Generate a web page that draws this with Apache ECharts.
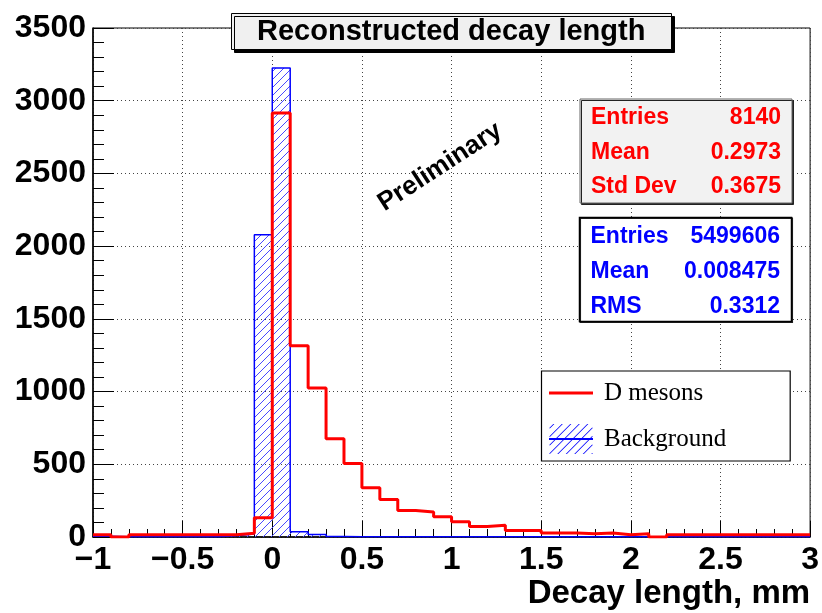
<!DOCTYPE html>
<html>
<head>
<meta charset="utf-8">
<script src="https://cdn.jsdelivr.net/npm/echarts@6/dist/echarts.min.js"></script>
<style>
html,body{margin:0;padding:0;background:#fff;}
#chart{width:822px;height:613px;}
</style>
</head>
<body>
<div id="chart"></div>
<script>
// ---- data (bins of width 0.1 from -1 to 3) ----
const binStart = -1;
const binWidth = 0.1;
const dMesons = [
  16, 0, 15, 15, 15, 15, 15, 15, 25, 132,
  2915, 1315, 1025, 675, 505, 338, 258, 182, 172, 140,
  105, 72, 80, 45, 45, 28, 28, 22, 27, 16,
  22, 0, 15, 15, 15, 15, 15, 15, 15, 15
];
const background = [
  6, 2, 2, 2, 2, 2, 2, 8, 20, 2078,
  3225, 36, 18, 3, 2, 2, 2, 2, 2, 2,
  2, 2, 2, 2, 2, 2, 2, 2, 2, 2,
  2, 2, 2, 2, 2, 2, 2, 2, 2, 2
];
const xRange = [-1, 3];
const xTickStep = 0.5;
const yRange = [0, 3500];
const yTickStep = 500;
const titleText = 'Reconstructed decay length';
const xAxisTitle = 'Decay length, mm';
const seriesNames = ['D mesons', 'Background'];
const statsD = [['Entries', '8140'], ['Mean', '0.2973'], ['Std Dev', '0.3675']];
const statsBg = [['Entries', '5499606'], ['Mean', '0.008475'], ['RMS', '0.3312']];
const watermark = 'Preliminary';

function toSteps(vals) {
  const pts = vals.map((v, i) => [+(binStart + i * binWidth).toFixed(3), v]);
  pts.push([+(binStart + vals.length * binWidth).toFixed(3), vals[vals.length - 1]]);
  return pts;
}

// hatch pattern
const hatch = document.createElement('canvas');
hatch.width = 8; hatch.height = 8;
(function () {
  const c = hatch.getContext('2d');
  c.strokeStyle = '#4a4aff';
  c.lineWidth = 1;
  c.beginPath();
  c.moveTo(-1, 9); c.lineTo(9, -1);
  c.moveTo(-1, 1); c.lineTo(1, -1);
  c.moveTo(7, 9); c.lineTo(9, 7);
  c.stroke();
})();

function hatchIcon(w, h, step, lw) {
  let p = 'M0,0L0,0M' + w + ',' + h + 'L' + w + ',' + h;
  for (let c = step / 2; c < w + h; c += step) {
    const x1 = Math.max(0, c - h), y1 = c - x1;
    const x2 = Math.min(w - lw, c), y2 = c - x2;
    if (x2 <= x1) continue;
    p += 'M' + x1 + ',' + y1 + 'L' + x2 + ',' + y2 + 'L' + (x2 + lw) + ',' + y2 + 'L' + (x1 + lw) + ',' + y1 + 'Z';
  }
  const m = h / 2;
  p += 'M0,' + (m - 0.9) + 'L' + w + ',' + (m - 0.9) + 'L' + w + ',' + (m + 0.9) + 'L0,' + (m + 0.9) + 'Z';
  return 'path://' + p;
}
const lineIcon = 'path://M0,0L0,0M44,30L44,30M0,13.5L44,13.5L44,16.5L0,16.5Z';

const fmt = v => {
  const s = String(+v.toFixed(2));
  return s.replace('-', '\u2212');
};

const font = 'Liberation Sans';
const graphics = [];
function statBox(x, y, w, h, rows, color, fill, stroke, lw, shadow, rowYs, right) {
  graphics.push({
    type: 'rect', z: 50,
    shape: { x: x, y: y, width: w, height: h },
    style: { fill: fill, stroke: stroke, lineWidth: lw, shadowColor: '#222', shadowOffsetX: shadow, shadowOffsetY: shadow, shadowBlur: 0 }
  });
  rows.forEach((r, i) => {
    graphics.push({
      type: 'text', z: 51, x: x + 11, y: rowYs[i],
      style: { text: r[0], fill: color, fontFamily: font, fontWeight: 'bold', fontSize: 23, align: 'left', verticalAlign: 'middle' }
    });
    graphics.push({
      type: 'text', z: 51, x: right, y: rowYs[i],
      style: { text: r[1], fill: color, fontFamily: font, fontWeight: 'bold', fontSize: 23, align: 'right', verticalAlign: 'middle' }
    });
  });
}
statBox(580, 99, 212, 104, statsD, '#ff0000', '#f2f2f2', '#666', 1, 1.5, [118, 152.5, 187], 781);
statBox(579.5, 217.5, 212, 104, statsBg, '#0000ff', '#ffffff', '#000', 1.5, 0.8, [237, 272, 307], 780);
graphics.push({
  type: 'text', z: 40, x: 440, y: 167, rotation: 33 * Math.PI / 180,
  style: { text: watermark, fill: '#000', fontFamily: font, fontWeight: 'bold', fontSize: 26, align: 'center', verticalAlign: 'middle' }
});

const chart = echarts.init(document.getElementById('chart'), null, { renderer: 'canvas' });
chart.setOption({
  animation: false,
  backgroundColor: '#fff',
  title: {
    text: titleText,
    left: 231, top: 13,
    padding: [3, 26, 3, 26],
    backgroundColor: '#f0f0f0',
    borderColor: '#000', borderWidth: 1,
    shadowColor: '#000', shadowOffsetX: 3, shadowOffsetY: 3, shadowBlur: 0,
    textStyle: { fontFamily: font, fontWeight: 'bold', fontSize: 29, color: '#000', lineHeight: 31 }
  },
  grid: {
    left: 93, right: 11, top: 28, bottom: 76,
    show: true, borderColor: '#000', borderWidth: 1, backgroundColor: 'transparent',
    containLabel: false
  },
  legend: {
    orient: 'vertical',
    left: 541.5, top: 371,
    padding: [7, 64, 7, 7.5],
    itemGap: 16,
    itemWidth: 44, itemHeight: 30,
    borderColor: '#000', borderWidth: 1.2,
    backgroundColor: '#fff',
    selectedMode: false,
    itemStyle: { borderWidth: 0 },
    textStyle: { fontFamily: 'Liberation Serif', fontSize: 25, color: '#000', padding: [0, 0, 0, 6] },
    data: [
      { name: seriesNames[0], icon: lineIcon },
      { name: seriesNames[1], icon: hatchIcon(44, 30, 8.5, 1.1) }
    ],
    z: 60
  },
  xAxis: {
    type: 'value',
    min: xRange[0], max: xRange[1], interval: xTickStep,
    name: xAxisTitle,
    nameLocation: 'end',
    nameGap: 0,
    nameMoveOverlap: false,
    nameTextStyle: { fontFamily: font, fontWeight: 'bold', fontSize: 33, color: '#000', align: 'right', verticalAlign: 'top', padding: [40, 0, 0, 0] },
    axisLine: { show: true, onZero: false, lineStyle: { color: '#000', width: 1.5 } },
    axisTick: { show: true, inside: true, length: 16, lineStyle: { color: '#000', width: 1 } },
    minorTick: { show: true, splitNumber: 5, length: 8, lineStyle: { color: '#000', width: 1 } },
    axisLabel: { formatter: fmt, fontFamily: font, fontWeight: 'bold', fontSize: 32, color: '#000', margin: 7 },
    splitLine: { show: true, lineStyle: { color: '#444', width: 1, type: [1, 3] } }
  },
  yAxis: {
    type: 'value',
    min: yRange[0], max: yRange[1], interval: yTickStep,
    axisLine: { show: true, onZero: false, lineStyle: { color: '#000', width: 1.5 } },
    axisTick: { show: true, inside: true, length: 21, lineStyle: { color: '#000', width: 1 } },
    minorTick: { show: true, splitNumber: 5, length: 11, lineStyle: { color: '#000', width: 1 } },
    axisLabel: { formatter: v => String(v), fontFamily: font, fontWeight: 'bold', fontSize: 32, color: '#000', margin: 7 },
    splitLine: { show: true, lineStyle: { color: '#444', width: 1, type: [1, 3] } }
  },
  series: [
    {
      name: seriesNames[1], type: 'line', step: 'end',
      data: toSteps(background),
      symbol: 'none', showSymbol: false,
      color: '#0000ff',
      lineStyle: { color: '#0000ff', width: 1.5 },
      itemStyle: { color: '#0000ff' },
      areaStyle: { color: { image: hatch, repeat: 'repeat' }, opacity: 1 },
      z: 2, silent: true
    },
    {
      name: seriesNames[0], type: 'line', step: 'end',
      data: toSteps(dMesons),
      symbol: 'none', showSymbol: false,
      color: '#ff0000',
      lineStyle: { color: '#ff0000', width: 3 },
      itemStyle: { color: '#ff0000' },
      z: 3, silent: true
    }
  ],
  graphic: graphics
});
</script>
</body>
</html>
